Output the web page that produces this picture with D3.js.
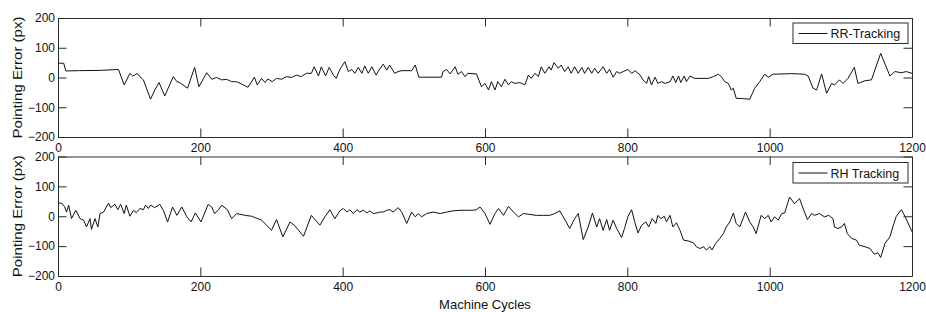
<!DOCTYPE html>
<html><head><meta charset="utf-8">
<script src="https://cdn.jsdelivr.net/npm/d3@7"></script>
<style>
html,body{margin:0;padding:0;background:#fff;}
svg text{font-family:"Liberation Sans",Arial,Helvetica,sans-serif;fill:#111;}
</style></head>
<body><svg id="chart" width="926" height="312"></svg>
<script>
const xTicks = [0, 200, 400, 600, 800, 1000, 1200];
const yTicks = [-200, -100, 0, 100, 200];
const xLabel = "Machine Cycles";
const yLabel = "Pointing Error (px)";
const seriesNames = ["RR-Tracking", "RH Tracking"];

const rrCycles = [0,8,11,30,60,85,93,101,105,108,111,115,120,130,136,142,150,162,167,171,182,192,198,209,216,223,230,237,244,251,258,267,276,280,286,291,295,301,307,314,321,328,335,342,349,356,360,366,370,376,381,387,391,396,403,408,413,417,422,427,431,436,441,447,451,457,462,466,473,478,483,497,502,507,539,541,546,551,558,562,567,572,576,588,595,600,605,609,614,618,623,628,633,637,642,649,656,661,665,670,675,679,684,690,693,697,703,707,712,717,721,726,731,736,740,745,750,754,759,766,771,775,780,785,789,794,801,806,811,818,822,827,830,834,839,843,848,853,860,864,868,872,875,880,883,888,895,914,921,928,932,937,942,946,949,953,963,972,979,986,993,998,1005,1031,1049,1054,1061,1066,1073,1080,1087,1091,1098,1103,1110,1119,1124,1134,1143,1156,1169,1176,1185,1192,1200];
const rrError = [48,48,22,23,24,27,-25,14,5,8,14,3,-8,-73,-42,-17,-62,3,-14,-17,-36,34,-31,16,-6,0,-8,-6,-14,-14,-22,-33,1,-25,-3,-17,-5,-14,-3,-6,3,0,8,3,14,14,36,5,36,5,34,8,-3,27,53,20,27,14,34,14,39,14,36,8,25,45,25,42,14,20,23,23,42,1,1,20,27,12,36,11,20,3,14,12,-31,-20,-42,-14,-42,-14,-31,-6,-25,-14,-20,-17,-25,8,-3,14,3,36,14,36,25,50,31,42,20,36,14,36,14,34,14,34,14,31,14,36,14,27,1,20,14,20,27,14,23,8,-8,-20,3,-25,1,-20,-14,-20,-14,5,-17,5,-17,5,-14,5,-3,-3,3,11,3,-14,-20,-42,-36,-70,-71,-73,-36,-14,11,1,11,13,11,5,-36,-42,12,-53,-20,-25,-8,-20,-3,34,-20,-11,-8,81,5,20,16,20,14];

const rhCycles = [0,5,9,12,15,19,25,31,36,40,45,47,52,56,59,64,71,74,80,84,88,93,96,101,106,110,115,120,123,127,130,136,143,148,154,161,167,174,181,187,193,201,211,216,220,225,230,238,244,251,263,272,286,300,307,316,326,332,345,356,368,375,382,389,396,401,406,410,415,420,424,429,434,438,443,448,452,457,462,466,471,478,483,490,497,502,506,511,518,527,537,546,555,565,574,583,588,593,600,607,614,619,626,633,640,647,654,663,672,682,691,698,705,714,719,726,731,738,745,751,757,761,766,771,775,780,785,792,796,801,806,811,815,820,826,830,835,840,843,847,852,855,860,864,869,874,879,886,893,897,902,907,911,916,919,924,930,935,939,944,949,953,958,966,972,977,981,988,993,998,1002,1007,1012,1017,1021,1028,1035,1042,1047,1053,1059,1063,1070,1077,1083,1089,1091,1096,1101,1105,1109,1115,1122,1126,1134,1141,1147,1152,1156,1162,1169,1173,1178,1185,1190,1197,1200];
const rhError = [44,44,33,14,37,-8,20,-8,-13,-36,-8,-44,-8,-36,9,14,44,29,40,22,40,9,37,0,20,12,26,22,37,26,37,29,40,20,-19,31,3,31,-2,-19,11,-19,40,31,9,20,37,22,-8,9,3,0,-13,-47,-11,-69,-19,-30,-67,3,-30,-2,22,-8,18,26,14,22,9,22,14,20,11,18,9,11,14,14,20,22,14,29,14,-24,14,-2,9,-2,9,14,9,14,18,20,20,20,22,31,9,-27,9,26,3,33,14,-2,9,6,3,3,3,9,18,-19,-41,-8,9,-78,-36,11,-36,-8,-47,-11,-47,-13,-41,-71,-41,0,22,-24,-56,-30,-19,-36,-8,-24,3,-8,0,-19,3,-36,-22,-47,-80,-83,-89,-102,-108,-102,-113,-102,-113,-91,-74,-58,-36,-19,11,-24,-36,14,-19,-36,-58,3,-8,3,-19,-2,-13,9,11,64,42,59,26,-11,9,3,9,-2,3,-8,-36,-41,-36,-24,-58,-74,-80,-97,-102,-108,-127,-122,-138,-91,-69,-36,0,22,0,-36,-52];

const svg = d3.select("#chart");
const left = 58, right = 912;
const panels = [
  {top: 18, bottom: 137, xs: rrCycles, ys: rrError, name: seriesNames[0], legendTop: 23},
  {top: 156.5, bottom: 276, xs: rhCycles, ys: rhError, name: seriesNames[1], legendTop: 162.5}
];
const x = d3.scaleLinear().domain([0, 1200]).range([left, right]);
const tickLen = 8.5;
const axisColor = "#2a2a2a";

panels.forEach((p, i) => {
  const y = d3.scaleLinear().domain([-200, 200]).range([p.bottom, p.top]);
  const g = svg.append("g");
  // data line
  const pts = p.xs.map((v, k) => [v, p.ys[k]]);
  g.append("path").datum(pts)
    .attr("fill", "none").attr("stroke", "#111").attr("stroke-width", 1)
    .attr("stroke-linejoin", "round")
    .attr("d", d3.line().x(d => x(d[0])).y(d => y(d[1])));
  // axes with D3 axis generators (ticks inward)
  const axB = g.append("g").attr("transform", `translate(0,${p.bottom})`)
    .call(d3.axisBottom(x).tickValues(xTicks).tickFormat(d3.format("d")).tickSizeInner(-tickLen).tickSizeOuter(0).tickPadding(tickLen + 4));
  const axT = g.append("g").attr("transform", `translate(0,${p.top})`)
    .call(d3.axisTop(x).tickValues(xTicks).tickFormat("").tickSizeInner(-tickLen).tickSizeOuter(0));
  const axL = g.append("g").attr("transform", `translate(${left},0)`)
    .call(d3.axisLeft(y).tickValues(yTicks).tickFormat(d3.format("d")).tickSizeInner(-tickLen).tickSizeOuter(0).tickPadding(-tickLen + 3));
  const axR = g.append("g").attr("transform", `translate(${right},0)`)
    .call(d3.axisRight(y).tickValues(yTicks).tickFormat("").tickSizeInner(-tickLen).tickSizeOuter(0));
  [axB, axT, axL, axR].forEach(a => {
    a.selectAll("path.domain").attr("stroke", axisColor).attr("stroke-width", 1);
    a.selectAll(".tick line").attr("stroke", axisColor).attr("stroke-width", 1);
    a.selectAll(".tick text").attr("font-size", 12).attr("fill", "#111")
      .attr("font-family", '"Liberation Sans", Arial, sans-serif');
  });
  axB.selectAll(".tick text").attr("dy", "0.71em").attr("y", 6);
  axL.selectAll(".tick text").attr("x", -3);
  // y label
  g.append("text")
    .attr("transform", `translate(22,${(p.top + p.bottom) / 2}) rotate(-90)`)
    .attr("text-anchor", "middle").attr("font-size", 13)
    .attr("textLength", 122).attr("lengthAdjust", "spacingAndGlyphs")
    .text(yLabel);
  // legend
  const lg = g.append("g");
  lg.append("rect").attr("x", 793).attr("y", p.legendTop).attr("width", 115).attr("height", 20.5)
    .attr("fill", "#fff").attr("stroke", axisColor).attr("stroke-width", 1);
  lg.append("line").attr("x1", 798.5).attr("x2", 827.5)
    .attr("y1", p.legendTop + 10.5).attr("y2", p.legendTop + 10.5)
    .attr("stroke", "#111").attr("stroke-width", 1);
  lg.append("text").attr("x", 830.5).attr("y", p.legendTop + 15)
    .attr("font-size", 12.5).text(p.name);
});

svg.append("text").attr("x", (left + right) / 2).attr("y", 308.5)
  .attr("text-anchor", "middle").attr("font-size", 13).text(xLabel);
</script></body></html>
